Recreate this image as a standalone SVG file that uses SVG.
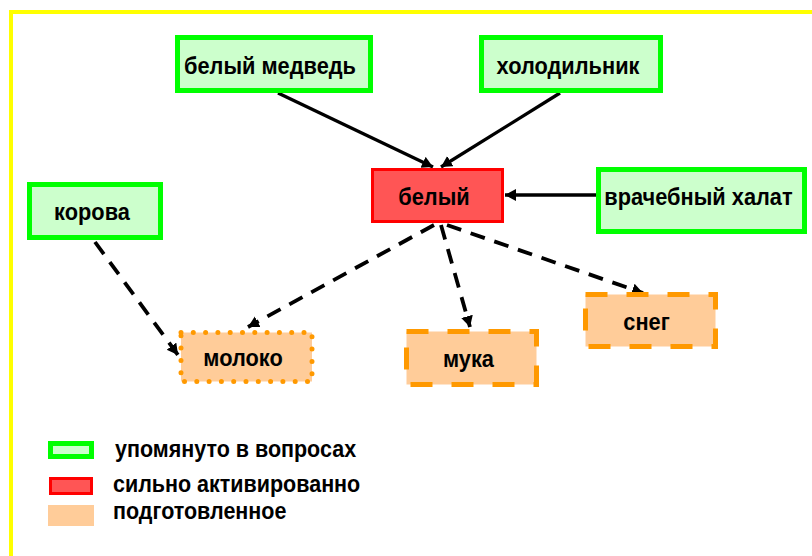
<svg xmlns="http://www.w3.org/2000/svg" width="812" height="556" viewBox="0 0 812 556">
<defs>
<style>
text{font-family:"Liberation Sans",Arial,sans-serif;font-weight:bold;fill:#000;}
.lbl{font-size:21.8px;text-anchor:middle;}
.leg{font-size:21.5px;}
.mention{fill:#ccffcc;stroke:#00ff00;stroke-width:5;}
.active{fill:#ff5555;stroke:#ff0000;stroke-width:3;}
.primed{fill:#ffcc99;stroke:#ff9900;stroke-width:5;}
.dash{stroke-dasharray:22 19;}
.dot{stroke-dasharray:0 12.3;stroke-linecap:round;}
.solid{stroke:#000;stroke-width:3.3;fill:none;marker-end:url(#ah);}
.dashed{stroke:#000;stroke-width:3.8;fill:none;stroke-dasharray:15 10;marker-end:url(#ah);}
</style>
<marker id="ah" markerUnits="userSpaceOnUse" markerWidth="13" markerHeight="13" refX="11" refY="6" orient="auto">
<path d="M0,0 L11,6 L0,12 z" fill="#000"/>
</marker>
</defs>
<rect x="11" y="12" width="830" height="570" fill="none" stroke="#ffff00" stroke-width="4"/>
<g id="connectors">
<line class="solid" x1="278" y1="93" x2="433" y2="167"/>
<line class="solid" x1="560" y1="93" x2="441" y2="167"/>
<line class="solid" x1="596" y1="195" x2="505" y2="195"/>
<line class="dashed" x1="434" y1="225" x2="248" y2="327"/>
<line class="dashed" x1="95" y1="242" x2="178" y2="355"/>
<line class="dashed" x1="441" y1="225" x2="470" y2="327"/>
<line class="dashed" x1="447" y1="225" x2="643" y2="293"/>
</g>
<g id="n-belyi-medved">
<rect class="mention" x="177.5" y="37.5" width="193" height="53"/>
<text class="lbl" transform="translate(270,74) scale(1,1.1)">белый медведь</text>
</g>
<g id="n-holodilnik">
<rect class="mention" x="481.5" y="37.5" width="179" height="53"/>
<text class="lbl" transform="translate(568,74) scale(1,1.1)">холодильник</text>
</g>
<g id="n-korova">
<rect class="mention" x="29.5" y="184.5" width="131" height="53"/>
<text class="lbl" transform="translate(92,220) scale(1,1.1)">корова</text>
</g>
<g id="n-belyi">
<rect class="active" x="372.5" y="169.5" width="130" height="52"/>
<text class="lbl" transform="translate(434,205) scale(1,1.1)">белый</text>
</g>
<g id="n-vrach-halat">
<rect class="mention" x="598.5" y="169.5" width="206" height="62"/>
<text class="lbl" transform="translate(698.5,205) scale(1,1.1)">врачебный халат</text>
</g>
<g id="n-moloko">
<rect class="primed dot" x="181" y="332.5" width="131" height="49"/>
<text class="lbl" transform="translate(243,366) scale(1,1.1)">молоко</text>
</g>
<g id="n-muka">
<rect class="primed dash" x="406.5" y="331.5" width="130" height="53"/>
<text class="lbl" transform="translate(468.5,367) scale(1,1.1)">мука</text>
</g>
<g id="n-sneg">
<rect class="primed dash" x="585.5" y="294.5" width="130" height="52"/>
<text class="lbl" transform="translate(646.5,330) scale(1,1.1)">снег</text>
</g>
<g id="legend">
<rect class="mention" x="50.5" y="443.5" width="41" height="13"/>
<text class="leg" transform="translate(115,457) scale(1,1.1)">упомянуто в вопросах</text>
<rect class="active" x="50.5" y="478.5" width="41" height="15"/>
<text class="leg" transform="translate(113,492) scale(1,1.1)">сильно активированно</text>
<rect x="48" y="505" width="46" height="21" fill="#ffcc99"/>
<text class="leg" transform="translate(113,519) scale(1,1.1)">подготовленное</text>
</g>
</svg>
